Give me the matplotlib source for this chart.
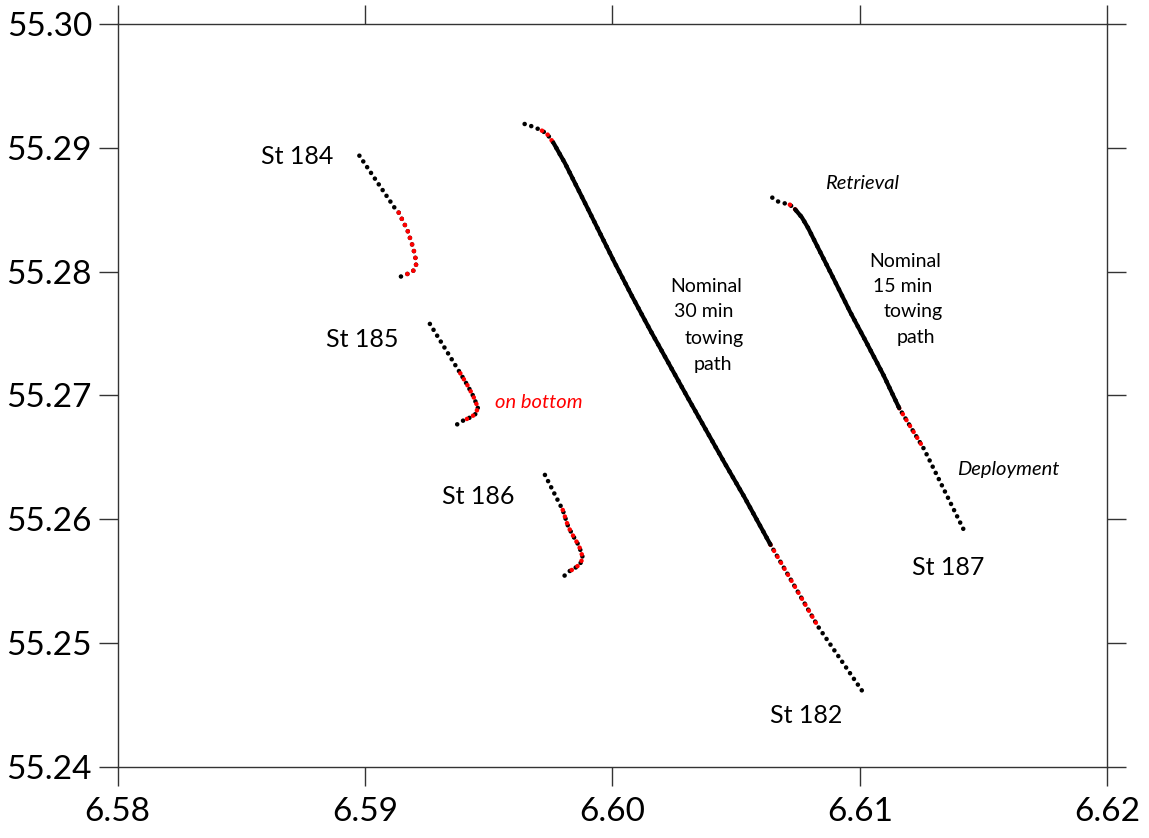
import matplotlib
matplotlib.use('Agg')
import matplotlib.pyplot as plt
from matplotlib.ticker import FormatStrFormatter, MultipleLocator

plt.rcParams['font.family'] = ['Lato', 'DejaVu Sans']

# track vertices (longitude, latitude)
# St 184
st184_x = [6.58977, 6.59118, 6.59136, 6.59171, 6.59195, 6.59206, 6.59206, 6.59191, 6.59168, 6.59144]
st184_y = [55.28936, 55.28519, 55.28476, 55.28336, 55.28188, 55.28088, 55.28035, 55.27997, 55.27978, 55.27959]
st184_red = (2, 9)

# St 185
st185_x = [6.59262, 6.59370, 6.59385, 6.59413, 6.59437, 6.59456, 6.59447, 6.59427, 6.59388, 6.59365]
st185_y = [55.27577, 55.27227, 55.27178, 55.27084, 55.26995, 55.26901, 55.26850, 55.26823, 55.26788, 55.26755]
st185_red = (2, 9)

# St 186
st186_x = [6.59727, 6.59785, 6.59799, 6.59821, 6.59844, 6.59865, 6.59880, 6.59869, 6.59842, 6.59828, 6.59797]
st186_y = [55.26357, 55.26128, 55.26074, 55.25939, 55.25854, 55.25783, 55.25689, 55.25636, 55.25595, 55.25582, 55.25527]
st186_red = (2, 10)

# St 182 (nominal 30 min tow)
st182_x = [6.59645, 6.59673, 6.59707, 6.59715, 6.59736, 6.59750, 6.59761, 6.59808, 6.59876, 6.59943,
           6.60010, 6.60080, 6.60152, 6.60227, 6.60302, 6.60378, 6.60454, 6.60532, 6.60639, 6.60831, 6.61011]
st182_y = [55.29192, 55.29174, 55.29146, 55.29138, 55.29111, 55.29071, 55.29041, 55.28875, 55.28605, 55.28336,
           55.28067, 55.27797, 55.27528, 55.27259, 55.26989, 55.26720, 55.26451, 55.26182, 55.25792, 55.25132, 55.24607]
st182_red = [(3, 7), (18, 20)]
st182_solid = (6, 19)

# St 187 (nominal 15 min tow)
st187_x = [6.60646, 6.60670, 6.60690, 6.60717, 6.60738, 6.60765, 6.60791, 6.60825, 6.60893, 6.60960,
           6.61028, 6.61095, 6.61159, 6.61259, 6.61418]
st187_y = [55.28597, 55.28565, 55.28554, 55.28540, 55.28503, 55.28439, 55.28351, 55.28215, 55.27946, 55.27676,
           55.27421, 55.27165, 55.26896, 55.26567, 55.25921]
st187_red = [(3, 5), (12, 14)]
st187_solid = (4, 13)

fig = plt.figure(figsize=(11.49, 8.38), dpi=100)
ax = fig.add_axes([0.1024, 0.0851, 0.8613, 0.8863])

dot = dict(lw=3.3, linestyle=(0, (0.01, 1.5)), dash_capstyle='round', solid_capstyle='round')


def dotted(xs, ys, color, z):
    ax.plot(xs, ys, color=color, zorder=z, **dot)


# black dotted full tracks, red bottom contact on top
for xs, ys, red in [(st184_x, st184_y, st184_red), (st185_x, st185_y, st185_red), (st186_x, st186_y, st186_red)]:
    dotted(xs, ys, 'black', 2)
    dotted(xs[red[0]:red[1]], ys[red[0]:red[1]], '#ff0000', 3)

for xs, ys, reds, solid in [(st182_x, st182_y, st182_red, st182_solid), (st187_x, st187_y, st187_red, st187_solid)]:
    dotted(xs, ys, 'black', 2)
    for a, b in reds:
        dotted(xs[a:b], ys[a:b], '#ff0000', 3)
    ax.plot(xs[solid[0]:solid[1]], ys[solid[0]:solid[1]], color='black', lw=3.0,
            solid_capstyle='round', zorder=4)

# labels
big = 18
ax.text(6.58725, 55.28926, 'St 184', fontsize=big, ha='center', va='center')
ax.text(6.58989, 55.27447, 'St 185', fontsize=big, ha='center', va='center')
ax.text(6.59457, 55.26179, 'St 186', fontsize=big, ha='center', va='center')
ax.text(6.60783, 55.24410, 'St 182', fontsize=big, ha='center', va='center')
ax.text(6.61356, 55.25606, 'St 187', fontsize=big, ha='center', va='center')
ax.text(6.59703, 55.26939, 'on bottom', fontsize=14.5, style='italic', color='#ff0000', ha='center', va='center')
ax.text(6.61010, 55.28708, 'Retrieval', fontsize=14.5, style='italic', ha='center', va='center')
ax.text(6.61599, 55.26397, 'Deployment', fontsize=14.5, style='italic', ha='center', va='center')

for s, (px, py) in zip(['Nominal', '30 min', 'towing', 'path'],
                       [(6.60378, 55.27876), (6.60370, 55.27674), (6.60410, 55.27456), (6.60406, 55.27246)]):
    ax.text(px, py, s, fontsize=14, ha='center', va='center')
for s, (px, py) in zip(['Nominal', '15 min', 'towing', 'path'],
                       [(6.61182, 55.28078), (6.61174, 55.27876), (6.61214, 55.27674), (6.61226, 55.27464)]):
    ax.text(px, py, s, fontsize=14, ha='center', va='center')

ax.set_xlim(6.58, 6.62)
ax.set_ylim(55.24, 55.30)
ax.xaxis.set_major_locator(MultipleLocator(0.01))
ax.yaxis.set_major_locator(MultipleLocator(0.01))
ax.xaxis.set_major_formatter(FormatStrFormatter('%.2f'))
ax.yaxis.set_major_formatter(FormatStrFormatter('%.2f'))
ax.tick_params(which='both', direction='out', length=13.5, width=1.0, color='#333333',
               top=True, right=True, labelsize=24, labelcolor='black')
ax.tick_params(axis='x', pad=8)
ax.tick_params(axis='y', pad=5)
for sp in ax.spines.values():
    sp.set_color('#333333')
    sp.set_linewidth(1.0)

fig.savefig('out.png', dpi=100)
